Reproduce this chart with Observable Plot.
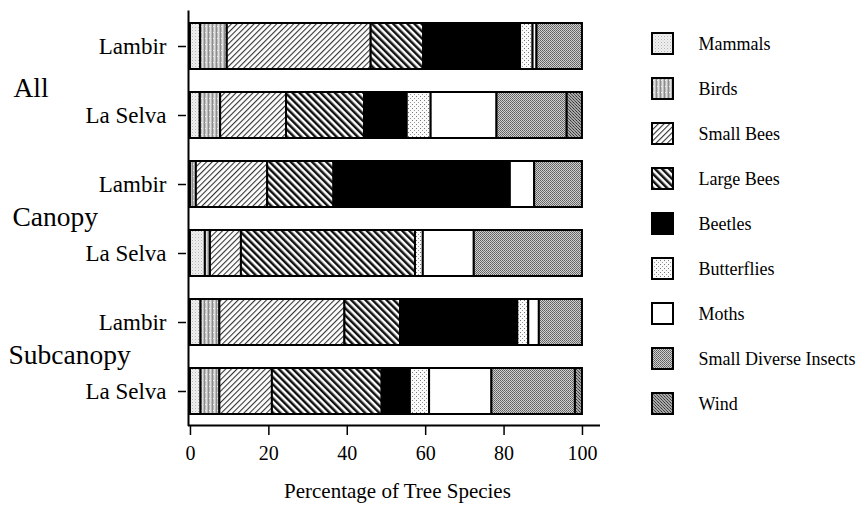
<!DOCTYPE html>
<html><head><meta charset="utf-8">
<script src="https://cdn.jsdelivr.net/npm/d3@7"></script>
<script src="https://cdn.jsdelivr.net/npm/@observablehq/plot@0.6"></script>
<style>
body{margin:0;background:#fff;}
#wrap{position:relative;width:864px;height:518px;background:#fff;}
#legend{position:absolute;left:640px;top:0;}
</style></head><body>
<svg width="0" height="0" style="position:absolute">
<defs>
<pattern id="p-mammals" width="3" height="3" patternUnits="userSpaceOnUse">
  <rect width="3" height="3" fill="#f0f0f0"/>
  <rect x="0" y="0" width="1" height="1" fill="#b4b4b4"/>
  <rect x="1.5" y="1.5" width="1" height="1" fill="#cccccc"/>
</pattern>
<pattern id="p-birds" width="4" height="6" patternUnits="userSpaceOnUse">
  <rect width="4" height="6" fill="#bcbcbc"/>
  <rect x="0" width="1" height="6" fill="#8c8c8c"/>
  <rect x="2" width="1" height="6" fill="#e0e0e0"/>
  <rect x="1" y="2" width="1" height="1" fill="#f0f0f0"/>
</pattern>
<pattern id="p-smallbees" width="4" height="4" patternUnits="userSpaceOnUse" patternTransform="rotate(45)">
  <rect width="4" height="4" fill="#fff"/>
  <rect x="0" width="1.1" height="4" fill="#333"/>
</pattern>
<pattern id="p-largebees" width="5" height="5" patternUnits="userSpaceOnUse" patternTransform="rotate(-45)">
  <rect width="5" height="5" fill="#fff"/>
  <rect x="0" width="2.5" height="5" fill="#111"/>
</pattern>
<pattern id="p-beetles" width="4" height="4" patternUnits="userSpaceOnUse">
  <rect width="4" height="4" fill="#000"/>
</pattern>
<pattern id="p-butterflies" width="4" height="4" patternUnits="userSpaceOnUse">
  <rect width="4" height="4" fill="#fafafa"/>
  <rect x="0" y="0" width="1" height="1" fill="#777"/>
  <rect x="2" y="2" width="1" height="1" fill="#999"/>
</pattern>
<pattern id="p-moths" width="4" height="4" patternUnits="userSpaceOnUse">
  <rect width="4" height="4" fill="#fff"/>
</pattern>
<pattern id="p-sdi" width="2" height="2" patternUnits="userSpaceOnUse">
  <rect width="2" height="2" fill="#d0d0d0"/>
  <rect x="0" y="0" width="1" height="1" fill="#606060"/>
  <rect x="1" y="1" width="1" height="1" fill="#707070"/>
</pattern>
<pattern id="p-wind" width="3" height="3" patternUnits="userSpaceOnUse">
  <rect width="3" height="3" fill="#a8a8a8"/>
  <rect x="0" y="0" width="1" height="1" fill="#333"/>
  <rect x="1" y="1" width="1" height="1" fill="#555"/>
  <rect x="2" y="2" width="1" height="1" fill="#444"/>
</pattern>
</defs></svg>
<div id="wrap"><div id="main"></div><div id="legend"></div></div>
<script>
// ---- data ----
const categories = ["Mammals","Birds","Small Bees","Large Bees","Beetles","Butterflies","Moths","Small Diverse Insects","Wind"];
const groups = ["All","All","Canopy","Canopy","Subcanopy","Subcanopy"];
const sites = ["Lambir","La Selva","Lambir","La Selva","Lambir","La Selva"];
const mammals      = [2.6, 2.5, 0.0, 3.8, 2.7, 2.7];
const birds        = [6.8, 5.2, 1.5, 1.3, 4.8, 4.8];
const smallBees    = [36.7, 16.8, 18.2, 7.9, 31.9, 13.4];
const largeBees    = [13.4, 19.9, 16.9, 44.4, 14.2, 28.0];
const beetles      = [24.7, 10.9, 45.0, 0.0, 29.9, 7.2];
const butterflies  = [3.2, 6.1, 0.0, 2.0, 2.8, 4.9];
const moths        = [1.0, 16.8, 6.2, 13.0, 2.7, 15.9];
const smallDiverse = [11.6, 17.9, 12.2, 27.6, 11.0, 21.3];
const wind         = [0.0, 3.9, 0.0, 0.0, 0.0, 1.8];
const xTicks = [0, 20, 40, 60, 80, 100];
const xLabel = "Percentage of Tree Species";
const groupNames = ["All","Canopy","Subcanopy"];

// ---- build ----
const patternIds = ["p-mammals","p-birds","p-smallbees","p-largebees","p-beetles","p-butterflies","p-moths","p-sdi","p-wind"];
const series = [mammals, birds, smallBees, largeBees, beetles, butterflies, moths, smallDiverse, wind];
const rows = groups.map((g, i) => g + "|" + sites[i]);
const table = [];
categories.forEach((c, ci) => rows.forEach((r, ri) => {
  const v = series[ci][ri];
  if (v > 0) table.push({row: r, cat: c, value: v});
}));
const colorScale = {type: "ordinal", domain: categories, range: patternIds.map(id => `url(#${id})`)};
const font = {fontFamily: "'Liberation Serif', 'Times New Roman', serif", color: "black", background: "transparent"};

const groupDy = [41.5, 33, 32.5];
const groupDx = [-175, -176, -180];
const groupMarks = groupNames.map((g, i) => Plot.text([g], {
  frameAnchor: "left", y: () => rows[groups.indexOf(g)], text: d => d,
  textAnchor: "start", dx: groupDx[i], dy: groupDy[i], fontSize: 27.5, fill: "black"
}));

const main = Plot.plot({
  width: 864, height: 518,
  marginLeft: 188, marginRight: 264, marginTop: 10.5, marginBottom: 92,
  style: font,
  x: {domain: [-0.5, 104.6], axis: null},
  y: {domain: rows, paddingInner: 0.34, paddingOuter: 0.15, axis: null},
  color: colorScale,
  marks: [
    Plot.barX(table, {x: "value", y: "row", fill: "cat", z: "cat", stroke: "black", strokeWidth: 2}),
    Plot.ruleX([-0.5], {stroke: "black", strokeWidth: 2}),
    Plot.ruleY([rows[rows.length - 1]], {x1: -0.5, x2: 104.6, dy: 34, stroke: "black", strokeWidth: 2}),
    Plot.axisX({ticks: xTicks, tickSize: 9, tickPadding: 10, fontSize: 20, label: null, stroke: "black", strokeWidth: 1.5}),
    Plot.axisY({tickSize: 8, tickPadding: 12, dx: -2, fontSize: 23, label: null, tickFormat: d => d.split("|")[1], stroke: "black", strokeWidth: 1.5}),
    ...groupMarks,
    Plot.text([xLabel], {x: 52.8, frameAnchor: "bottom", dy: 71, text: d => d, fontSize: 21, fill: "black"})
  ]
});
document.getElementById("main").appendChild(main);

const legend = Plot.plot({
  width: 224, height: 518,
  marginLeft: 0, marginRight: 0, marginTop: 5.3, marginBottom: 75.8,
  style: font,
  x: {domain: [0, 224], axis: null},
  y: {domain: categories, padding: 0.54, axis: null},
  color: colorScale,
  marks: [
    Plot.barX(categories, {x1: 12, x2: 33, y: d => d, fill: d => d, stroke: "black", strokeWidth: 2}),
    Plot.text(categories, {x: 58, y: d => d, text: d => d, textAnchor: "start", fontSize: 18, fill: "black"})
  ]
});
document.getElementById("legend").appendChild(legend);
</script>
</body></html>
